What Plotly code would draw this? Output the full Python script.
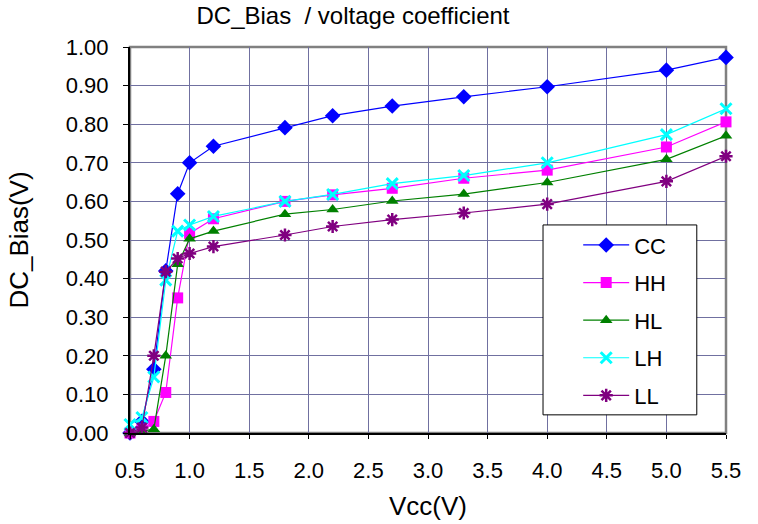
import plotly.graph_objects as go

# Vcc sweep points
vcc = [0.5, 0.6, 0.7, 0.8, 0.9, 1.0, 1.2, 1.8, 2.2, 2.7, 3.3, 4.0, 5.0, 5.5]

cc = [0.00, 0.03, 0.165, 0.42, 0.62, 0.70, 0.743, 0.791, 0.822, 0.847, 0.871, 0.897, 0.940, 0.973]
hh = [0.00, 0.01, 0.03, 0.105, 0.35, 0.517, 0.555, 0.600, 0.617, 0.634, 0.660, 0.681, 0.741, 0.806]
hl = [0.00, 0.005, 0.01, 0.20, 0.437, 0.503, 0.523, 0.567, 0.579, 0.601, 0.619, 0.649, 0.709, 0.770]
lh = [0.022, 0.04, 0.145, 0.396, 0.523, 0.539, 0.561, 0.600, 0.618, 0.646, 0.667, 0.700, 0.773, 0.840]
ll = [0.00, 0.014, 0.20, 0.418, 0.452, 0.465, 0.483, 0.513, 0.535, 0.553, 0.570, 0.593, 0.652, 0.717]

FONT = "Liberation Sans, Arial, sans-serif"

series = [
    ("CC", cc, "#0000FF", dict(symbol="diamond", size=12, color="#0000FF")),
    ("HH", hh, "#FF00FF", dict(symbol="square", size=11, color="#FF00FF")),
    ("HL", hl, "#008000", dict(symbol="triangle-up", size=11, color="#008000")),
    ("LH", lh, "#00FFFF", dict(symbol="x-thin-open", size=11, color="#00FFFF",
                               line=dict(width=3, color="#00FFFF"))),
    ("LL", ll, "#800080", dict(symbol="asterisk-open", size=11, color="#800080",
                               line=dict(width=2.5, color="#800080"))),
]

fig = go.Figure()
for name, vals, col, mk in series:
    fig.add_trace(go.Scatter(x=vcc, y=vals, name=name, mode="lines+markers",
                             line=dict(color=col, width=1.2), marker=mk,
                             legendgroup=name, cliponaxis=False))

# plot frame (gray top/right)
fig.add_shape(type="rect", xref="paper", yref="paper", x0=0, x1=1, y0=0, y1=1,
              line=dict(color="#808080", width=2.5), layer="below")
# legend box
fig.add_shape(type="rect", xref="paper", yref="paper", x0=0.693, x1=0.951, y0=0.047, y1=0.539,
              line=dict(color="black", width=1), fillcolor="white", layer="above")

fig.update_layout(
    width=758, height=524,
    margin=dict(l=130, r=32, t=47, b=91),
    paper_bgcolor="white", plot_bgcolor="white",
    font=dict(family=FONT, size=22, color="black"),
    title=dict(text="DC_Bias\u00a0 / voltage coefficient", x=353 / 758,
               xanchor="center", y=1 - 16 / 524, yanchor="middle",
               font=dict(size=24)),
    showlegend=True,
    legend=dict(x=0.752, y=0.541, xanchor="left", yanchor="top", bgcolor="rgba(0,0,0,0)",
                traceorder="grouped", tracegroupgap=6, itemwidth=46,
                font=dict(size=22)),
)

fig.update_xaxes(range=[0.5, 5.5], dtick=0.5, tick0=0.5, tickformat=".1f",
                 showgrid=True, gridcolor="#7070a0", gridwidth=1, zeroline=False,
                 showline=True, linecolor="black", linewidth=2, automargin=False,
                 ticks="outside", ticklen=4, tickcolor="black", ticklabelstandoff=13,
                 title=dict(text="Vcc(V)", standoff=14))
fig.update_yaxes(range=[0, 1.0], dtick=0.1, tick0=0, tickformat=".2f",
                 showgrid=True, gridcolor="#7070a0", gridwidth=1, zeroline=False,
                 showline=True, linecolor="black", linewidth=2, automargin=False,
                 ticks="outside", ticklen=5, tickcolor="black", ticklabelstandoff=10,
                 title=dict(text="DC_Bias(V)", standoff=30))

# drop the page's default body margin so the figure sits at (0, 0)
fig.write_html("out.html", config={"displayModeBar": False},
               post_script="document.body.style.margin='0';")
